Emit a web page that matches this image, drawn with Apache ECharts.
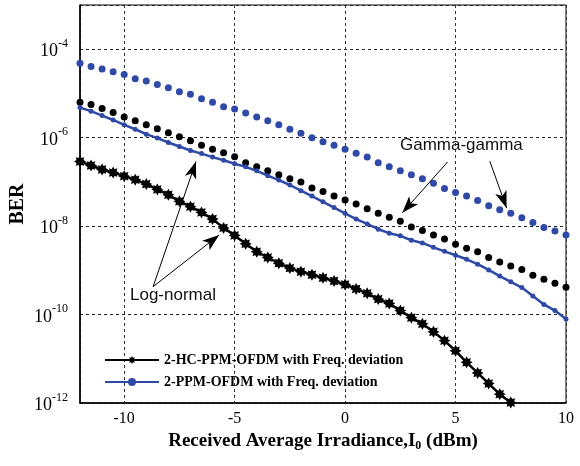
<!DOCTYPE html>
<html>
<head>
<meta charset="utf-8">
<script src="https://cdn.jsdelivr.net/npm/echarts@6/dist/echarts.min.js"></script>
<style>
html, body { margin: 0; padding: 0; background: #fff; }
#chart { width: 580px; height: 466px; }
</style>
</head>
<body>
<div id="chart"></div>
<script>
// irradiance (dBm), step 0.5
var xFull = [];
for (var i = 0; i <= 44; i++) xFull.push(-12 + i * 0.5);
var xHc = xFull.slice(0, 40); // -12 .. 7.5

// log10(BER)
// log-normal, 2-HC-PPM-OFDM (black, stars)
var lnHcExp = [-6.54, -6.63, -6.72, -6.79, -6.87, -6.95, -7.05, -7.17, -7.29, -7.44,
  -7.56, -7.69, -7.84, -8.04, -8.21, -8.40, -8.58, -8.71, -8.84, -8.95,
  -9.03, -9.10, -9.17, -9.24, -9.32, -9.42, -9.52, -9.65, -9.75, -9.91,
  -10.07, -10.21, -10.39, -10.59, -10.82, -11.08, -11.32, -11.56, -11.80, -11.99];
// log-normal, 2-PPM-OFDM (blue line)
var lnPpmExp = [-5.32, -5.40, -5.50, -5.60, -5.71, -5.81, -5.92, -6.01, -6.11, -6.20,
  -6.29, -6.36, -6.44, -6.51, -6.59, -6.66, -6.75, -6.86, -6.96, -7.07,
  -7.20, -7.32, -7.45, -7.58, -7.71, -7.84, -7.95, -8.07, -8.16, -8.22,
  -8.32, -8.38, -8.48, -8.57, -8.66, -8.75, -8.86, -8.99, -9.13, -9.26,
  -9.39, -9.58, -9.77, -9.91, -10.10];
// gamma-gamma, 2-HC-PPM-OFDM (black dots)
var ggHcExp = [-5.20, -5.25, -5.34, -5.43, -5.53, -5.62, -5.71, -5.80, -5.89, -5.98,
  -6.07, -6.17, -6.26, -6.34, -6.43, -6.57, -6.66, -6.75, -6.84, -6.93,
  -7.00, -7.14, -7.22, -7.32, -7.41, -7.50, -7.61, -7.71, -7.80, -7.89,
  -8.02, -8.10, -8.20, -8.29, -8.41, -8.50, -8.58, -8.71, -8.81, -8.90,
  -8.98, -9.11, -9.20, -9.29, -9.38];
// gamma-gamma, 2-PPM-OFDM (blue dots)
var ggPpmExp = [-4.32, -4.39, -4.45, -4.51, -4.57, -4.67, -4.72, -4.80, -4.87, -4.96,
  -5.02, -5.12, -5.20, -5.30, -5.35, -5.44, -5.53, -5.62, -5.71, -5.81,
  -5.90, -6.00, -6.09, -6.17, -6.26, -6.35, -6.44, -6.57, -6.66, -6.75,
  -6.84, -6.93, -7.03, -7.15, -7.24, -7.32, -7.42, -7.54, -7.63, -7.71,
  -7.81, -7.92, -8.03, -8.11, -8.20];

var seriesNames = ['2-HC-PPM-OFDM with Freq. deviation', '2-PPM-OFDM with Freq. deviation'];

// arrows [xTail, expTail, xHead, expHead]
var ggArrows = [[4.64, -6.55, 2.59, -7.70], [6.55, -6.53, 7.31, -7.59]];
var lnArrows = [[-8.69, -9.37, -6.75, -6.54], [-8.69, -9.37, -5.70, -8.20]];

function pairs(xs, exps) {
  return exps.map(function (e, k) { return [xs[k], Math.pow(10, e)]; });
}

function arrowData(list) {
  return list.map(function (a) {
    return [{ coord: [a[0], Math.pow(10, a[1])] }, { coord: [a[2], Math.pow(10, a[3])] }];
  });
}

// 8-point star marker
var starPath = (function () {
  var pts = [];
  for (var k = 0; k < 16; k++) {
    var ang = Math.PI * k / 8;
    var r = k % 2 === 0 ? 1 : 0.62;
    pts.push((r * Math.cos(ang)).toFixed(3) + ',' + (r * Math.sin(ang)).toFixed(3));
  }
  return 'path://M' + pts.join(' L') + ' Z';
})();

var blue = '#2f4aa6';
var serif = 'Liberation Serif';

var chart = echarts.init(document.getElementById('chart'));

var option = {
  backgroundColor: '#fff',
  animation: false,
  grid: {
    left: 80, right: 14, top: 5, bottom: 63,
    outerBoundsMode: 'none',
    containLabel: false,
    show: true, borderColor: '#000', borderWidth: 1
  },
  legend: {
    data: seriesNames,
    orient: 'vertical',
    left: 99, top: 348,
    itemWidth: 54, itemHeight: 10, itemGap: 8,
    textStyle: { fontFamily: serif, fontWeight: 'bold', fontSize: 14, color: '#000' }
  },
  xAxis: {
    type: 'value',
    min: -12, max: 10,
    splitNumber: 5,
    name: '{b|Received Average Irradiance,I}{sub|0}{b| (dBm)}',
    nameLocation: 'middle',
    nameGap: 27,
    nameMoveOverlap: false,
    nameTextStyle: {
      rich: {
        b: { fontFamily: serif, fontWeight: 'bold', fontSize: 19, color: '#000' },
        sub: { fontFamily: serif, fontWeight: 'bold', fontSize: 12, color: '#000', padding: [10, 0, 0, 0] }
      }
    },
    axisLine: { show: true, onZero: false, lineStyle: { color: '#000', width: 1.5 } },
    axisTick: { show: false },
    axisLabel: {
      fontFamily: serif, fontSize: 16, color: '#000', margin: 8,
      showMinLabel: false,
      formatter: function (v) { return v === -12 ? '' : String(v); }
    },
    splitLine: { show: true, lineStyle: { color: '#333', type: [3, 3], width: 1 } }
  },
  yAxis: {
    type: 'log',
    logBase: 10,
    min: 1e-12, max: 1e-3,
    interval: 2,
    name: 'BER',
    nameLocation: 'middle',
    nameGap: 52,
    nameMoveOverlap: false,
    nameTextStyle: { fontFamily: serif, fontWeight: 'bold', fontSize: 20, color: '#000' },
    axisLine: { show: true, onZero: false, lineStyle: { color: '#000', width: 1.5 } },
    axisTick: { show: false },
    axisLabel: {
      margin: 12,
      showMaxLabel: false,
      formatter: function (v) {
        var e = Math.round(Math.log(v) / Math.LN10);
        if (e % 2 !== 0) return '';
        return '{b|10}{s|' + e + '}';
      },
      rich: {
        b: { fontFamily: serif, fontSize: 18, color: '#000', verticalAlign: 'bottom' },
        s: { fontFamily: serif, fontSize: 12, color: '#000', verticalAlign: 'bottom', padding: [0, 0, 11, 0] }
      }
    },
    splitLine: { show: true, lineStyle: { color: '#222', type: [3, 3], width: 1 } }
  },
  graphic: [
    { type: 'text', left: 400, top: 137, style: { text: 'Gamma-gamma', font: '17px "Liberation Sans"', fill: '#111' } },
    { type: 'text', left: 130, top: 287, style: { text: 'Log-normal', font: '17px "Liberation Sans"', fill: '#111' } }
  ],
  series: [
    {
      name: 'gg-ppm', type: 'scatter', z: 3,
      data: pairs(xFull, ggPpmExp),
      symbol: 'circle', symbolSize: 7,
      itemStyle: { color: blue, opacity: 1 }
    },
    {
      name: 'gg-hc', type: 'scatter', z: 3,
      data: pairs(xFull, ggHcExp),
      symbol: 'circle', symbolSize: 7,
      itemStyle: { color: '#000', opacity: 1 },
      markLine: {
        silent: true, symbol: ['none', 'arrow'], symbolSize: [9, 17],
        label: { show: false },
        lineStyle: { color: '#000', width: 1, type: 'solid' },
        data: arrowData(ggArrows.concat(lnArrows))
      }
    },
    {
      name: seriesNames[1], type: 'line', z: 4,
      data: pairs(xFull, lnPpmExp),
      symbol: 'circle', symbolSize: 5, showSymbol: true,
      lineStyle: { color: blue, width: 2.5 },
      itemStyle: { color: blue }
    },
    {
      name: seriesNames[0], type: 'line', z: 5,
      data: pairs(xHc, lnHcExp),
      symbol: starPath, symbolSize: 12, showSymbol: true,
      lineStyle: { color: '#000', width: 2.5 },
      itemStyle: { color: '#000' }
    }
  ]
};

chart.setOption(option);
</script>
</body>
</html>
